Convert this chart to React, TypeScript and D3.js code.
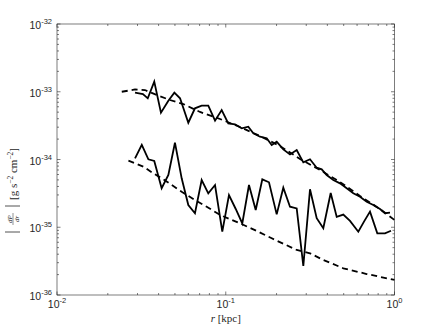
import React from "react";
import * as d3 from "d3";

// upper solid
const rUpperSolid = [0.029, 0.0323, 0.0345, 0.0377, 0.0413, 0.0457, 0.0496, 0.0536, 0.06, 0.0657, 0.072, 0.0788, 0.0864, 0.0946, 0.1035, 0.1134, 0.1243, 0.136, 0.1457, 0.1596, 0.1748, 0.1872, 0.2004, 0.2193, 0.2403, 0.2633, 0.2882, 0.3157, 0.3459, 0.3704, 0.3964, 0.4338, 0.4753, 0.5208, 0.57, 0.6245, 0.6843, 0.7488, 0.8204, 0.8785, 0.9404];
const vUpperSolid = [9.68e-34, 9.26e-34, 8.0e-34, 1.41e-33, 4.91e-34, 7.38e-34, 9.68e-34, 8.0e-34, 3.49e-34, 5.7e-34, 6.22e-34, 6.22e-34, 3.74e-34, 5.38e-34, 3.42e-34, 3.31e-34, 2.89e-34, 3.05e-34, 2.44e-34, 2.17e-34, 2.06e-34, 1.64e-34, 1.83e-34, 1.41e-34, 1.19e-34, 1.38e-34, 9.09e-35, 1.007e-34, 7.57e-35, 7.17e-35, 5.9e-35, 4.98e-35, 4.45e-35, 3.76e-35, 3.17e-35, 2.82e-35, 2.38e-35, 2.13e-35, 1.86e-35, 1.61e-35, 1.64e-35];

// upper dashed
const rUpperDashed = [0.0242, 0.029, 0.0332, 0.039, 0.0467, 0.056, 0.0704, 0.0925, 0.1215, 0.1596, 0.2097, 0.2754, 0.3618, 0.4753, 0.6245, 0.8204, 1.0];
const vUpperDashed = [1.0e-33, 1.08e-33, 1.06e-33, 8.95e-34, 7.55e-34, 6.59e-34, 5.03e-34, 3.96e-34, 3.02e-34, 2.22e-34, 1.58e-34, 1.017e-34, 7.0e-35, 4.66e-35, 2.89e-35, 1.86e-35, 1.28e-35];

// lower solid
const rLowerSolid = [0.029, 0.0318, 0.0348, 0.0377, 0.0417, 0.0457, 0.05, 0.0548, 0.06, 0.0657, 0.072, 0.0788, 0.0864, 0.0954, 0.1045, 0.1146, 0.1253, 0.1373, 0.1505, 0.1647, 0.1804, 0.2004, 0.2193, 0.2403, 0.2633, 0.2882, 0.3157, 0.3459, 0.3785, 0.4187, 0.4545, 0.4973, 0.5449, 0.6103, 0.6595, 0.7159, 0.7909, 0.8785, 0.9535];
const vLowerSolid = [1.04e-34, 1.64e-34, 1.007e-34, 9.5e-35, 3.76e-35, 5.9e-35, 1.77e-34, 5.28e-35, 2.13e-35, 1.61e-35, 4.98e-35, 3.17e-35, 4.2e-35, 8.6e-36, 2.99e-35, 1.86e-35, 1.14e-35, 4.2e-35, 1.8e-35, 5.1e-35, 4.61e-35, 1.55e-35, 3.84e-35, 2.01e-35, 1.9e-35, 2.68e-36, 3.63e-35, 1.36e-35, 9.65e-36, 3.2e-35, 1.42e-35, 1.54e-35, 1.24e-35, 8.6e-36, 1.21e-35, 1.7e-35, 8.14e-36, 8.14e-36, 8.89e-36];

// lower dashed
const rLowerDashed = [0.0265, 0.0325, 0.0372, 0.0427, 0.0548, 0.0657, 0.0771, 0.0925, 0.1215, 0.1559, 0.1872, 0.2633, 0.3157, 0.3785, 0.4973, 0.6843, 1.0];
const vLowerDashed = [9.6e-35, 7.83e-35, 6.26e-35, 5.1e-35, 3.35e-35, 2.52e-35, 2.01e-35, 1.52e-35, 1.14e-35, 8.6e-36, 6.87e-36, 4.62e-36, 4.13e-36, 3.29e-36, 2.48e-36, 2.04e-36, 1.67e-36];

const xTickValues = [0.01, 0.1, 1];
const xTickExps = ["-2", "-1", "0"];
const yTickValues = [1e-36, 1e-35, 1e-34, 1e-33, 1e-32];
const yTickExps = ["-36", "-35", "-34", "-33", "-32"];

const W = 436, H = 327;
const L = 57, R = 394.5, T = 24, B = 295;
const AX = "#262626";

export default function App() {
  const x = d3.scaleLog().domain([0.01, 1]).range([L, R]);
  const y = d3.scaleLog().domain([1e-36, 1e-32]).range([B, T]);
  const line = d3.line<[number, number]>().x(d => x(d[0])).y(d => y(d[1]));
  const mk = (rs: number[], vs: number[]) => line(rs.map((r, i) => [r, vs[i]] as [number, number])) || "";

  const xMinor: number[] = [];
  for (let e = -2; e < 0; e++) for (let k = 2; k <= 9; k++) xMinor.push(k * Math.pow(10, e));
  const yMinor: number[] = [];
  for (let e = -36; e < -32; e++) for (let k = 2; k <= 9; k++) yMinor.push(k * Math.pow(10, e));

  const majLen = 3.5, minLen = 2;
  const font = "'Liberation Sans', Arial, Helvetica, sans-serif";
  const serif = "'Liberation Serif', 'DejaVu Serif', serif";

  return (
    <svg width={W} height={H} style={{ position: "absolute", left: 0, top: 0, background: "#fff" }}>
      <rect x={0} y={0} width={W} height={H} fill="#fff" />
      {/* ticks */}
      <g stroke={AX} strokeWidth={0.6}>
        {xTickValues.map((v, i) => (
          <g key={"xt" + i}>
            <line x1={x(v)} x2={x(v)} y1={B} y2={B - majLen} />
            <line x1={x(v)} x2={x(v)} y1={T} y2={T + majLen} />
          </g>
        ))}
        {xMinor.map((v, i) => (
          <g key={"xm" + i}>
            <line x1={x(v)} x2={x(v)} y1={B} y2={B - minLen} />
            <line x1={x(v)} x2={x(v)} y1={T} y2={T + minLen} />
          </g>
        ))}
        {yTickValues.map((v, i) => (
          <g key={"yt" + i}>
            <line x1={L} x2={L + majLen} y1={y(v)} y2={y(v)} />
            <line x1={R} x2={R - majLen} y1={y(v)} y2={y(v)} />
          </g>
        ))}
        {yMinor.map((v, i) => (
          <g key={"ym" + i}>
            <line x1={L} x2={L + minLen} y1={y(v)} y2={y(v)} />
            <line x1={R} x2={R - minLen} y1={y(v)} y2={y(v)} />
          </g>
        ))}
      </g>
      {/* data */}
      <g fill="none" stroke="#000" strokeWidth={1.8} strokeLinejoin="miter">
        <path d={mk(rUpperSolid, vUpperSolid)} />
        <path d={mk(rLowerSolid, vLowerSolid)} />
        <path d={mk(rUpperDashed, vUpperDashed)} strokeDasharray="6,4" />
        <path d={mk(rLowerDashed, vLowerDashed)} strokeDasharray="6,4" />
      </g>
      {/* box */}
      <rect x={L} y={T} width={R - L} height={B - T} fill="none" stroke={AX} strokeWidth={0.6} />
      {/* tick labels */}
      <g fill={AX} fontFamily={font} fontSize={10.5}>
        {xTickValues.map((v, i) => (
          <text key={"xl" + i} x={x(v)} y={B + 13} textAnchor="middle">
            10<tspan fontSize={7.5} dy={-5}>{xTickExps[i]}</tspan>
          </text>
        ))}
        {yTickValues.map((v, i) => (
          <text key={"yl" + i} x={L - 5} y={y(v) + 5} textAnchor="end">
            10<tspan fontSize={7.5} dy={-5}>{yTickExps[i]}</tspan>
          </text>
        ))}
      </g>
      {/* x label */}
      <text x={(L + R) / 2} y={321.5} textAnchor="middle" fontFamily={serif} fontSize={11} fill={AX}>
        <tspan fontStyle="italic">r</tspan> [kpc]
      </text>
      {/* y label */}
      <g transform="translate(13,170) rotate(-90)" fill={AX} fontFamily={serif}>
        <line x1={-62} x2={-62} y1={-8} y2={7} stroke={AX} strokeWidth={0.8} />
        <line x1={-36} x2={-36} y1={-8} y2={7} stroke={AX} strokeWidth={0.8} />
        <text x={-49} y={-1.5} fontSize={7} fontStyle="italic" textAnchor="middle">dP</text>
        <line x1={-55} x2={-43} y1={0} y2={0} stroke={AX} strokeWidth={0.5} />
        <text x={-49} y={6} fontSize={7} fontStyle="italic" textAnchor="middle">dr</text>
        <text x={-30} y={4} fontSize={11}>
          [g s<tspan fontSize={7.5} dy={-4}>−2</tspan><tspan dy={4}> cm</tspan><tspan fontSize={7.5} dy={-4}>−2</tspan><tspan dy={4}>]</tspan>
        </text>
      </g>
    </svg>
  );
}
